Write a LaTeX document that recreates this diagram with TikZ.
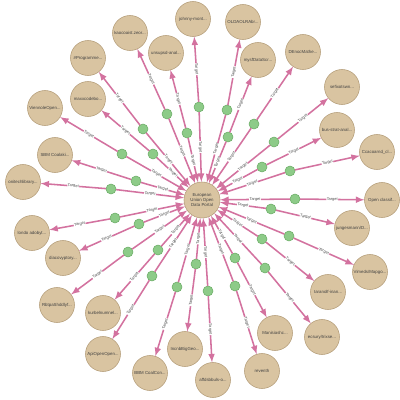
\documentclass[tikz,border=0pt]{standalone}
\usepackage{fontspec}
\setmainfont{Liberation Sans}
\definecolor{repofill}{HTML}{D9C4A1}
\definecolor{repoline}{HTML}{B59E7A}
\definecolor{dotfill}{HTML}{8DCB88}
\definecolor{dotline}{HTML}{6DAE68}
\definecolor{linkpink}{HTML}{D3729F}
\begin{document}
\begin{tikzpicture}[x=0.025cm,y=-0.025cm,inner sep=0pt,outer sep=0pt,>=latex,
repo/.style={draw=repoline,fill=repofill,circle,thin,minimum size=0.875cm,font=\fontsize{3.1}{3.7}\selectfont,text=black!75,align=center},
hub/.style={repo,minimum size=0.9cm},
dot/.style={draw=dotline,fill=dotfill,circle,thin,minimum size=0.25cm},
link/.style={color=linkpink,line width=1.1pt},
lbl/.style={sloped,fill=white,inner sep=0.3pt,font=\fontsize{2.8}{3}\selectfont,text=black!70}]
\useasboundingbox (0,0) rectangle (400,400);
% hub
\draw (202,200) node[hub] (ctr) {European\\Union Open\\Data Portal};
% outer ring
\draw (130,33) node[repo] (o1) {kaocoaist.zeor...};
\draw (193,19) node[repo] (o3) {johnny-mont...};
\draw (243,22) node[repo] (o4) {OLDAOLRAbr...};
\draw (303,52) node[repo] (o6) {DEnocMathe...};
\draw (342,87) node[repo] (o7) {sefixotswn...};
\draw (377,152) node[repo] (o9) {Ccacoarnd\_cl...};
\draw (382,200) node[repo] (o10) {Open classif...};
\draw (370,272) node[repo] (o12) {Vimeds/Mapgo...};
\draw (322,337) node[repo] (o14) {ecsury/trixse...};
\draw (262,371) node[repo] (o16) {reventh};
\draw (213,380) node[repo] (o17) {affdsbbuls-o...};
\draw (150,373) node[repo] (o19) {BBM CoalCon...};
\draw (103,354) node[repo] (o20) {ApiOpenOpen...};
\draw (57,305) node[repo] (o22) {RbtpaShddlyf...};
\draw (32,233) node[repo] (o24) {londo adobyt...};
\draw (23,182) node[repo] (o25) {onitechlibrary...};
\draw (45,108) node[repo] (o27) {ViennoleOpen...};
\draw (88,58) node[repo] (o29) {\#Programme...};
% inner ring
\draw (166,53) node[repo] (o2) {unsupsd-anal...};
\draw (258,60) node[repo] (o5) {mysfDataScr...};
\draw (337,130) node[repo] (o8) {bus-strat-anal...};
\draw (352,228) node[repo] (o11) {jungesmann/D...};
\draw (328,292) node[repo] (o13) {Iaranolf-inan...};
\draw (275,333) node[repo] (o15) {Manisiashc...};
\draw (185,349) node[repo] (o18) {IncnbBigGeo...};
\draw (103,313) node[repo] (o21) {kurbelnumnel...};
\draw (63,258) node[repo] (o23) {diacovyptory...};
\draw (55,155) node[repo] (o26) {SBM Coalaki...};
\draw (88,99) node[repo] (o28) {maxxcodebo...};
% links through the green dots
\draw (167,114) node[dot] (d1) {};
\draw (187,133) node[dot] (d2) {};
\draw (199,107) node[dot] (d3) {};
\draw (227,110) node[dot] (d4) {};
\draw (228,137) node[dot] (d5) {};
\draw (254,124) node[dot] (d6) {};
\draw (274,142) node[dot] (d7) {};
\draw (262,167) node[dot] (d8) {};
\draw (290,171) node[dot] (d9) {};
\draw (295,199) node[dot] (d10) {};
\draw (271,209) node[dot] (d11) {};
\draw (289,236) node[dot] (d12) {};
\draw (262,239) node[dot] (d13) {};
\draw (265,268) node[dot] (d14) {};
\draw (235,258) node[dot] (d15) {};
\draw (235,286) node[dot] (d16) {};
\draw (208,291) node[dot] (d17) {};
\draw (196,264) node[dot] (d18) {};
\draw (177,287) node[dot] (d19) {};
\draw (152,276) node[dot] (d20) {};
\draw (158,250) node[dot] (d21) {};
\draw (128,252) node[dot] (d22) {};
\draw (139,224) node[dot] (d23) {};
\draw (115,218) node[dot] (d24) {};
\draw (111,189) node[dot] (d25) {};
\draw (136,181) node[dot] (d26) {};
\draw (122,154) node[dot] (d27) {};
\draw (153,154) node[dot] (d28) {};
\draw (143,129) node[dot] (d29) {};
\draw[link] (d1) edge[->] node[lbl] {Target} (ctr) edge[->] node[lbl] {Target} (o1);
\draw[link] (d2) edge[->] node[lbl] {Target} (ctr) edge[->] node[lbl] {Target} (o2);
\draw[link] (d3) edge[->] node[lbl] {Target} (ctr) edge[->] node[lbl] {Target} (o3);
\draw[link] (d4) edge[->] node[lbl] {Target} (ctr) edge[->] node[lbl] {Target} (o4);
\draw[link] (d5) edge[->] node[lbl] {Target} (ctr) edge[->] node[lbl] {Target} (o5);
\draw[link] (d6) edge[->] node[lbl] {Target} (ctr) edge[->] node[lbl] {Target} (o6);
\draw[link] (d7) edge[->] node[lbl] {Target} (ctr) edge[->] node[lbl] {Target} (o7);
\draw[link] (d8) edge[->] node[lbl] {Target} (ctr) edge[->] node[lbl] {Target} (o8);
\draw[link] (d9) edge[->] node[lbl] {Target} (ctr) edge[->] node[lbl] {Target} (o9);
\draw[link] (d10) edge[->] node[lbl] {Target} (ctr) edge[->] node[lbl] {Target} (o10);
\draw[link] (d11) edge[->] node[lbl] {Target} (ctr) edge[->] node[lbl] {Target} (o11);
\draw[link] (d12) edge[->] node[lbl] {Target} (ctr) edge[->] node[lbl] {Target} (o12);
\draw[link] (d13) edge[->] node[lbl] {Target} (ctr) edge[->] node[lbl] {Target} (o13);
\draw[link] (d14) edge[->] node[lbl] {Target} (ctr) edge[->] node[lbl] {Target} (o14);
\draw[link] (d15) edge[->] node[lbl] {Target} (ctr) edge[->] node[lbl] {Target} (o15);
\draw[link] (d16) edge[->] node[lbl] {Target} (ctr) edge[->] node[lbl] {Target} (o16);
\draw[link] (d17) edge[->] node[lbl] {Target} (ctr) edge[->] node[lbl] {Target} (o17);
\draw[link] (d18) edge[->] node[lbl] {Target} (ctr) edge[->] node[lbl] {Target} (o18);
\draw[link] (d19) edge[->] node[lbl] {Target} (ctr) edge[->] node[lbl] {Target} (o19);
\draw[link] (d20) edge[->] node[lbl] {Target} (ctr) edge[->] node[lbl] {Target} (o20);
\draw[link] (d21) edge[->] node[lbl] {Target} (ctr) edge[->] node[lbl] {Target} (o21);
\draw[link] (d22) edge[->] node[lbl] {Target} (ctr) edge[->] node[lbl] {Target} (o22);
\draw[link] (d23) edge[->] node[lbl] {Target} (ctr) edge[->] node[lbl] {Target} (o23);
\draw[link] (d24) edge[->] node[lbl] {Target} (ctr) edge[->] node[lbl] {Target} (o24);
\draw[link] (d25) edge[->] node[lbl] {Target} (ctr) edge[->] node[lbl] {Target} (o25);
\draw[link] (d26) edge[->] node[lbl] {Target} (ctr) edge[->] node[lbl] {Target} (o26);
\draw[link] (d27) edge[->] node[lbl] {Target} (ctr) edge[->] node[lbl] {Target} (o27);
\draw[link] (d28) edge[->] node[lbl] {Target} (ctr) edge[->] node[lbl] {Target} (o28);
\draw[link] (d29) edge[->] node[lbl] {Target} (ctr) edge[->] node[lbl] {Target} (o29);
\end{tikzpicture}
\end{document}
